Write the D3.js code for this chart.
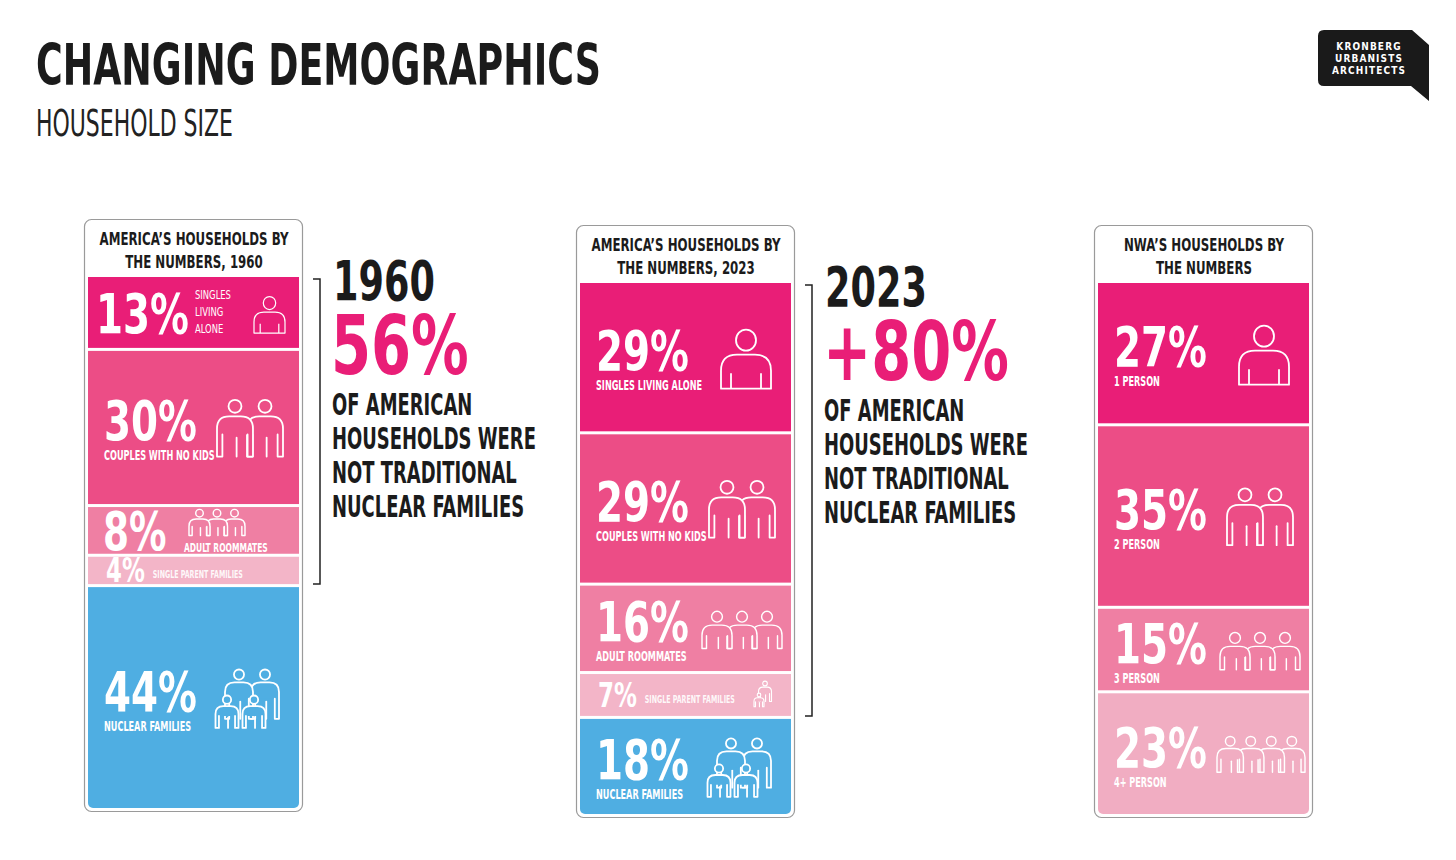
<!DOCTYPE html>
<html><head><meta charset="utf-8">
<script src="https://cdn.jsdelivr.net/npm/d3@7"></script>
<style>
body{margin:0;background:#fff;}
text{font-family:"Liberation Sans Narrow","DejaVu Sans Condensed","Roboto",sans-serif;}
</style></head><body>
<svg id="c" width="1456" height="860"></svg>
<script>
// ---------- DATA ----------
const titleText = "CHANGING DEMOGRAPHICS";
const subtitleText = "HOUSEHOLD SIZE";
const logoLines = ["KRONBERG", "URBANISTS", "ARCHITECTS"];
const panelTitles = [
  ["AMERICA’S HOUSEHOLDS BY", "THE NUMBERS, 1960"],
  ["AMERICA’S HOUSEHOLDS BY", "THE NUMBERS, 2023"],
  ["NWA’S HOUSEHOLDS BY", "THE NUMBERS"]
];
const categoriesUS = ["SINGLES LIVING ALONE", "COUPLES WITH NO KIDS", "ADULT ROOMMATES", "SINGLE PARENT FAMILIES", "NUCLEAR FAMILIES"];
const values1960 = [13, 30, 8, 4, 44];
const values2023 = [29, 29, 16, 7, 18];
const categoriesNWA = ["1 PERSON", "2 PERSON", "3 PERSON", "4+ PERSON"];
const valuesNWA = [27, 35, 15, 23];
const calloutYears = ["1960", "2023"];
const calloutValues = ["56%", "+80%"];
const calloutText = ["OF AMERICAN", "HOUSEHOLDS WERE", "NOT TRADITIONAL", "NUCLEAR FAMILIES"];

// ---------- STYLE / LAYOUT ----------
const colorsUS = ["#E91E77", "#EC4D86", "#EF7FA3", "#F3B5C8", "#4FAEE2"];
const colorsNWA = ["#E91E77", "#EC4D86", "#EF7FA3", "#F1ADC2"];
const iconsUS = ["single", "couple", "three", "parent", "family"];
const iconsNWA = ["single", "couple", "three", "four"];
const panels = [
  {title: panelTitles[0], cats: categoriesUS, vals: values1960, colors: colorsUS, icons: iconsUS,
   layout: ["side3", "stack", "iconTop", "inline", "stack"], x: 84, y: 219, callout: 0},
  {title: panelTitles[1], cats: categoriesUS, vals: values2023, colors: colorsUS, icons: iconsUS,
   layout: ["stack", "stack", "stack", "inline", "stack"], x: 576, y: 225, callout: 1},
  {title: panelTitles[2], cats: categoriesNWA, vals: valuesNWA, colors: colorsNWA, icons: iconsNWA,
   layout: ["stack", "stack", "stack", "stack"], x: 1094, y: 225, callout: -1}
];
const PW = 218, PH = 592, BASE = 8, GAP = 3;
const DARK = "#1b1b1b", PINK = "#E91E77";
const NSX = 0.77;  // numerals compression
const iconW = {single: 50, couple: 66, three: 80, four: 88, family: 69};
const iconRight = {single: 20, couple: 16, three: 9, four: 4, family: 16};

const svg = d3.select("#c");

function T(g, str, x, y, size, o = {}) {
  const t = g.append("text")
    .attr("transform", `translate(${x},${y}) scale(${o.sx ?? 0.7},1)`)
    .style("font-size", size + "px")
    .style("font-weight", o.w ?? 700)
    .attr("fill", o.fill ?? "#fff")
    .attr("text-anchor", o.anchor ?? "start")
    .text(str);
  if (o.ls) t.attr("letter-spacing", o.ls);
  if (o.op) t.attr("fill-opacity", o.op);
  return t;
}

// ---------- ICONS ----------
function bust(g, cx, top, s, fill, sw) {
  const r = s * 0.2, yt = top + 2.1 * r + s * 0.08, bh = s * 0.68, yb = yt + bh;
  const x0 = cx - s / 2, x1 = cx + s / 2, rr = s * 0.32;
  g.append("ellipse").attr("cx", cx).attr("cy", top + r * 1.05).attr("rx", r).attr("ry", r * 1.05)
    .attr("fill", fill).attr("stroke", "#fff").attr("stroke-width", sw);
  g.append("path").attr("d",
    `M${x0},${yb}L${x0},${yt + rr}Q${x0},${yt} ${x0 + rr},${yt}L${x1 - rr},${yt}Q${x1},${yt} ${x1},${yt + rr}L${x1},${yb}Z` +
    `M${x0 + s * 0.2},${yb}L${x0 + s * 0.2},${yb - bh * 0.45}M${x1 - s * 0.2},${yb}L${x1 - s * 0.2},${yb - bh * 0.45}`)
    .attr("fill", fill).attr("stroke", "#fff").attr("stroke-width", sw).attr("stroke-linejoin", "round");
}
function armFig(g, cx, top, s, bhf, fill, sw) {
  const r = s * 0.18, yt = top + 2 * r + s * 0.1, bh = s * bhf, yb = yt + bh;
  const x0 = cx - s / 2, x1 = cx + s / 2, rr = s * 0.34, a = s * 0.15, ya = yt + bh * 0.45;
  g.append("circle").attr("cx", cx).attr("cy", top + r).attr("r", r)
    .attr("fill", fill).attr("stroke", "#fff").attr("stroke-width", sw);
  g.append("path").attr("d",
    `M${x0 + a},${ya}L${x0 + a},${yb}L${x0},${yb}L${x0},${yt + rr}` +
    `Q${x0},${yt} ${x0 + rr},${yt}L${x1 - rr},${yt}Q${x1},${yt} ${x1},${yt + rr}` +
    `L${x1},${yb}L${x1 - a},${yb}L${x1 - a},${ya}`)
    .attr("fill", fill).attr("stroke", "#fff").attr("stroke-width", sw)
    .attr("stroke-linejoin", "round").attr("stroke-linecap", "round");
  g.append("path").attr("d", `M${cx + a * 0.3},${ya + bh * 0.08}L${cx + a * 0.3},${yb}`)
    .attr("fill", "none").attr("stroke", "#fff").attr("stroke-width", sw).attr("stroke-linecap", "round");
}
const iconAspect = {single: 1.22, couple: 0.93, three: 0.5, four: 0.46, family: 0.9, parent: 1.2};
function drawIcon(g, kind, L, cy, W, fill) {
  const H = W * iconAspect[kind], T0 = cy - H / 2;
  const sw = W < 35 ? 1.2 : 1.8;
  if (kind === "single") bust(g, L + W / 2, T0, W, fill, sw);
  else if (kind === "couple") {
    const s = W * 0.545;
    armFig(g, L + W - s / 2, T0, s, 1.12, fill, sw);
    armFig(g, L + s / 2, T0, s, 1.12, fill, sw);
  } else if (kind === "three" || kind === "four") {
    const n = kind === "three" ? 3 : 4, s = W * (n === 3 ? 0.375 : 0.3);
    for (let i = n - 1; i >= 0; i--) armFig(g, L + s / 2 + i * (W - s) / (n - 1), T0, s, n === 3 ? 0.78 : 0.9, fill, sw * 0.8);
  } else if (kind === "family") {
    const k = W / 69;
    armFig(g, L + 51 * k, T0, 28 * k, 1.3, fill, sw);
    armFig(g, L + 25 * k, T0, 28 * k, 1.3, fill, sw);
    armFig(g, L + 40 * k, T0 + 26 * k, 23 * k, 0.95, fill, sw);
    armFig(g, L + 13 * k, T0 + 26 * k, 23 * k, 0.95, fill, sw);
  } else if (kind === "parent") {
    const k = W / 23;
    armFig(g, L + 14 * k, T0, 13 * k, 1.1, fill, 1.1);
    armFig(g, L + 8 * k, T0 + 12 * k, 10 * k, 0.9, fill, 1.1);
  }
}

// ---------- HEADER ----------
T(svg, titleText, 36, 85, 57, {fill: DARK, sx: 0.71});
T(svg, subtitleText, 36, 136, 37, {fill: "#222", w: 400, sx: 0.66});

// logo
svg.append("path")
  .attr("d", "M1318,36Q1318,30 1324,30L1412,30L1429,45L1429,101L1411,86L1324,86Q1318,86 1318,80Z")
  .attr("fill", "#1a1a1a");
logoLines.forEach((l, i) => T(svg, l, 1369, 50 + i * 12, 10.5, {anchor: "middle", sx: 0.95, ls: 1.2}));

// ---------- PANELS ----------
panels.forEach((p, pi) => {
  const g = svg.append("g");
  g.append("rect").attr("x", p.x + 0.5).attr("y", p.y + 0.5).attr("width", PW).attr("height", PH)
    .attr("rx", 7).attr("fill", "#fff").attr("stroke", "#9a9a9a").attr("stroke-width", 1.2);
  p.title.forEach((t, i) => T(g, t, p.x + PW / 2 + 1, p.y + 26 + i * 23, 18, {fill: DARK, anchor: "middle", sx: 0.73}));

  const sx0 = p.x + 4, sx1 = p.x + 215, segTop = p.y + 58, segBottom = p.y + 589;
  const n = p.vals.length;
  const avail = segBottom - segTop - (n - 1) * GAP;
  const hScale = d3.scaleLinear().domain([0, d3.sum(p.vals)]).range([0, avail - n * BASE]);
  let yy = segTop;
  const segs = p.vals.map((v, i) => { const h = BASE + hScale(v); const s = {v, i, y: yy, h}; yy += h + GAP; return s; });

  const cid = "clip" + pi;
  g.append("clipPath").attr("id", cid).append("rect")
    .attr("x", sx0).attr("y", segTop - 10).attr("width", sx1 - sx0).attr("height", segBottom - segTop + 10).attr("rx", 5);
  const sg = g.append("g").attr("clip-path", `url(#${cid})`);
  sg.selectAll("rect.seg").data(segs).join("rect").attr("class", "seg")
    .attr("x", sx0).attr("y", d => d.y).attr("width", sx1 - sx0).attr("height", d => d.h)
    .attr("fill", d => p.colors[d.i]);

  segs.forEach(d => {
    const cy = d.y + d.h / 2, fill = p.colors[d.i], lay = p.layout[d.i], cat = p.cats[d.i], icon = p.icons[d.i];
    const num = d.v + "%";
    if (lay === "stack") {
      T(g, num, sx0 + 16, cy + 13, 56, {sx: NSX});
      T(g, cat, sx0 + 16, cy + 33, 13.5, {sx: 0.67});
      const W = iconW[icon];
      drawIcon(g, icon, sx1 - iconRight[icon] - W, cy + 3, W, fill);
    } else if (lay === "side3") {
      T(g, num, sx0 + 8, cy + 21, 56, {sx: NSX});
      cat.split(" ").forEach((w, k) => T(g, w, sx0 + 107, cy - 13.5 + k * 17, 13, {w: 400, sx: 0.72}));
      drawIcon(g, icon, sx0 + 166, cy + 3, 31, fill);
    } else if (lay === "iconTop") {
      T(g, num, sx0 + 15, cy + 20, 54, {sx: NSX});
      drawIcon(g, icon, sx0 + 101, cy - 7, 56, fill);
      T(g, cat, sx0 + 96, cy + 22, 12.5, {sx: 0.67});
    } else if (lay === "inline") {
      const t = T(g, num, sx0 + 18, cy + 12, 33, {sx: NSX});
      const wNum = t.node().getComputedTextLength() * NSX;
      T(g, cat, sx0 + 18 + wNum + 8, cy + 8, 10.5, {sx: 0.67, op: 0.92});
      if (d.h >= 35) drawIcon(g, icon, sx1 - 17 - 23, cy, 23, fill);
    }
  });

  if (p.callout >= 0) {
    const bx = p.x + PW + 18, y1 = segs[0].y + 2, y2 = segs[3].y + segs[3].h;
    g.append("path").attr("d", `M${bx - 7},${y1}L${bx},${y1}L${bx},${y2}L${bx - 7},${y2}`)
      .attr("fill", "none").attr("stroke", "#222").attr("stroke-width", 1.5);
    const tx = bx + 13, yb = y1 + 21;
    T(g, calloutYears[p.callout], tx, yb, 55, {fill: DARK, sx: 0.74});
    T(g, calloutValues[p.callout], tx - 2, yb + 74, 82, {fill: PINK, sx: 0.78});
    calloutText.forEach((l, i) => T(g, l, tx - 1, yb + 115 + i * 34, 30, {fill: DARK, sx: 0.665}));
  }
});
</script>
</body></html>
